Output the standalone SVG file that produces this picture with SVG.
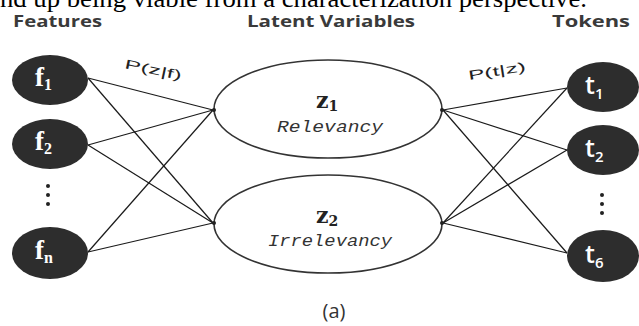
<svg xmlns="http://www.w3.org/2000/svg" width="639" height="326" viewBox="0 0 639 326">
<style>
.title{font-family:"Open Sans","Liberation Sans",sans-serif;font-weight:700;font-size:16px;fill:#3a3a3a}
.node{fill:#2d2d2d}
.ftxt{font-family:"Liberation Serif","DejaVu Serif",serif;font-weight:700;fill:#fff}
.ttxt{font-family:"Open Sans","Liberation Sans",sans-serif;font-weight:600;fill:#fff}
.lat{fill:#fff;stroke:#333;stroke-width:1.6}
.ztxt{font-family:"DejaVu Serif","Liberation Serif",serif;fill:#222;font-weight:700}
.ital{font-family:"Liberation Mono","DejaVu Sans Mono",monospace;font-style:italic;font-size:16px;fill:#333}
.conn line{stroke:#1a1a1a;stroke-width:1.2}
.lbl{font-family:"Liberation Sans","DejaVu Sans",sans-serif;font-size:13px;fill:#222}
.dot{fill:#222}
</style>
<rect width="639" height="326" fill="#fff"/>
<text x="0" y="7" font-family="Liberation Serif,serif" font-size="25" fill="#000" textLength="587" lengthAdjust="spacingAndGlyphs">nd up being viable from a characterization perspective.</text>
<text class="title" x="13" y="27" textLength="89" lengthAdjust="spacingAndGlyphs">Features</text>
<text class="title" x="247" y="27" textLength="168" lengthAdjust="spacingAndGlyphs">Latent Variables</text>
<text class="title" x="552" y="27" textLength="78" lengthAdjust="spacingAndGlyphs">Tokens</text>
<g class="conn" id="connectors">
<line x1="88" y1="78" x2="213" y2="110"/>
<line x1="88" y1="78" x2="213" y2="223"/>
<line x1="88" y1="145" x2="213" y2="110"/>
<line x1="88" y1="145" x2="213" y2="223"/>
<line x1="88" y1="252" x2="213" y2="110"/>
<line x1="88" y1="252" x2="213" y2="223"/>
<line x1="443" y1="110" x2="567" y2="88"/>
<line x1="443" y1="110" x2="567" y2="150"/>
<line x1="443" y1="110" x2="567" y2="253"/>
<line x1="443" y1="223" x2="567" y2="88"/>
<line x1="443" y1="223" x2="567" y2="150"/>
<line x1="443" y1="223" x2="567" y2="253"/>
<text class="lbl" transform="translate(124,68) rotate(12)" textLength="58" lengthAdjust="spacingAndGlyphs">P(z|f)</text>
<text class="lbl" transform="translate(469,80) rotate(-9)" textLength="58" lengthAdjust="spacingAndGlyphs">P(t|z)</text>
</g>
<g id="f1"><ellipse class="node" cx="50" cy="80" rx="38" ry="25"/><text class="ftxt" x="35" y="86" font-size="27">f<tspan font-size="16" dy="4">1</tspan></text></g>
<g id="f2"><ellipse class="node" cx="50" cy="144" rx="38" ry="25"/><text class="ftxt" x="35" y="150" font-size="27">f<tspan font-size="16" dy="4">2</tspan></text></g>
<g id="fdots"><circle class="dot" cx="48" cy="186" r="2"/><circle class="dot" cx="48" cy="195" r="2"/><circle class="dot" cx="48" cy="204" r="2"/></g>
<g id="fn"><ellipse class="node" cx="50" cy="253" rx="38" ry="26"/><text class="ftxt" x="35" y="259" font-size="27">f<tspan font-size="16" dy="4">n</tspan></text></g>
<g id="z1"><ellipse class="lat" cx="328" cy="109" rx="114" ry="49"/><text class="ztxt" x="316" y="108" font-size="22">z<tspan font-size="14" dy="3">1</tspan></text><text class="ital" x="277" y="132" textLength="106" lengthAdjust="spacingAndGlyphs">Relevancy</text><circle class="dot" cx="214" cy="110" r="2"/><circle class="dot" cx="442" cy="110" r="2"/></g>
<g id="z2"><ellipse class="lat" cx="328" cy="224" rx="114" ry="49"/><text class="ztxt" x="316" y="223" font-size="22">z<tspan font-size="14" dy="3">2</tspan></text><text class="ital" x="268" y="246" textLength="124" lengthAdjust="spacingAndGlyphs">Irrelevancy</text><circle class="dot" cx="214" cy="223" r="2"/><circle class="dot" cx="442" cy="223" r="2"/></g>
<g id="t1"><ellipse class="node" cx="603" cy="87" rx="36" ry="25"/><text class="ttxt" x="585" y="94" font-size="25">t<tspan font-size="15" dy="5">1</tspan></text></g>
<g id="t2"><ellipse class="node" cx="603" cy="150" rx="36" ry="25"/><text class="ttxt" x="585" y="157" font-size="25">t<tspan font-size="15" dy="5">2</tspan></text></g>
<g id="tdots"><circle class="dot" cx="602" cy="195" r="2"/><circle class="dot" cx="602" cy="204" r="2"/><circle class="dot" cx="602" cy="213" r="2"/></g>
<g id="t6"><ellipse class="node" cx="603" cy="256" rx="36" ry="26"/><text class="ttxt" x="585" y="263" font-size="25">t<tspan font-size="15" dy="5">6</tspan></text></g>
<text x="334" y="318" text-anchor="middle" font-family="Open Sans,Liberation Sans,sans-serif" font-size="20" fill="#333">(a)</text>
</svg>
